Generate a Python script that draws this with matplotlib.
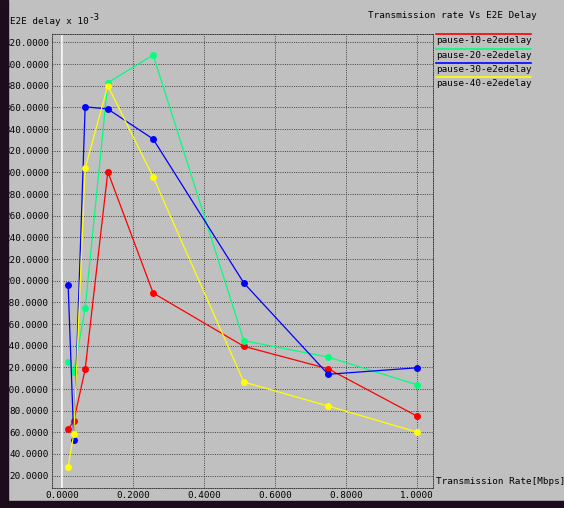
import matplotlib
matplotlib.use('Agg')
import matplotlib.pyplot as plt
from matplotlib.lines import Line2D
from matplotlib.patches import Rectangle

# transmission rate [Mbps]
rate = [0.016, 0.032, 0.064, 0.128, 0.256, 0.512, 0.75, 1.0]

# E2E delay x 10^-3, one list per pause time
pause10 = [62.8, 70.7, 118.2, 300.6, 188.6, 139.4, 118.7, 75.1]
pause20 = [124.6, 116.0, 174.5, 382.8, 408.4, 144.6, 129.5, 104.0]
pause30 = [195.7, 52.9, 360.6, 358.5, 330.8, 197.9, 113.6, 119.6]
pause40 = [28.2, 58.7, 303.8, 380.0, 295.7, 106.4, 84.3, 60.3]

names = ['pause-10-e2edelay', 'pause-20-e2edelay', 'pause-30-e2edelay', 'pause-40-e2edelay']
colores = ['#ff0000', '#00ff7f', '#0000ff', '#ffff00']
series = [pause10, pause20, pause30, pause40]

xticks = [0.0, 0.2, 0.4, 0.6, 0.8, 1.0]
yticks = list(range(20, 421, 20))

W, H = 564, 508
gris = '#c0c0c0'
mono = 'DejaVu Sans Mono'
fs = 6.7

fig = plt.figure(figsize=(W/100, H/100), dpi=100, facecolor=gris)

def fx(px):
    return px / W

def fy(py):
    return 1 - py / H

ax = fig.add_axes([fx(52), fy(488), fx(433) - fx(52), fy(34) - fy(488)])
ax.set_facecolor(gris)
ax.set_xlim(-0.0296, 1.046)
ax.set_ylim(8.6, 427.8)

ax.set_xticks(xticks)
ax.set_xticklabels(['%.4f' % v for v in xticks], fontfamily=mono, fontsize=fs)
ax.set_yticks(yticks)
ax.set_yticklabels(['%.4f' % v for v in yticks], fontfamily=mono, fontsize=fs)
ax.tick_params(length=0, pad=2)

ax.grid(True, color='#303030', linestyle=(0, (1, 1.5)), linewidth=0.65)
for s in ax.spines.values():
    s.set_linestyle((0, (1, 1.5)))
    s.set_color('#303030')
    s.set_linewidth(0.65)

# eje cero en blanco
ax.axvline(0, color='white', linewidth=1.2, zorder=2)

for ys, c in zip(series, colores):
    ax.plot(rate, ys, color=c, linewidth=0.9, marker='o', markersize=5,
            markeredgewidth=0, zorder=3)

# leyenda a la derecha
for i, (n, c) in enumerate(zip(names, colores)):
    yl = 34.3 + i * 14.3
    fig.add_artist(Line2D([fx(436), fx(531)], [fy(yl), fy(yl)], color=c, linewidth=1.2))
    fig.text(fx(436), fy(yl + 6.5), n, fontfamily=mono, fontsize=fs, va='center', ha='left')

fig.text(fx(537), fy(15), 'Transmission rate Vs E2E Delay', fontfamily=mono,
         fontsize=fs, ha='right', va='center')
fig.text(fx(10), fy(21), 'E2E delay x 10', fontfamily=mono, fontsize=fs,
         ha='left', va='center')
fig.text(fx(88.5), fy(17), '-3', fontfamily=mono, fontsize=fs, ha='left', va='center')
fig.text(fx(436), fy(481.5), 'Transmission Rate[Mbps]', fontfamily=mono,
         fontsize=fs, ha='left', va='center')

# bordes oscuros de la ventana
fig.add_artist(Rectangle((0, 0), fx(8), 1, transform=fig.transFigure,
                         color='#1c0c1c', zorder=10))
fig.add_artist(Rectangle((0, 0), 1, fy(501), transform=fig.transFigure,
                         color='#1c0c1c', zorder=10))

fig.savefig('out.png', dpi=100, facecolor=gris)
